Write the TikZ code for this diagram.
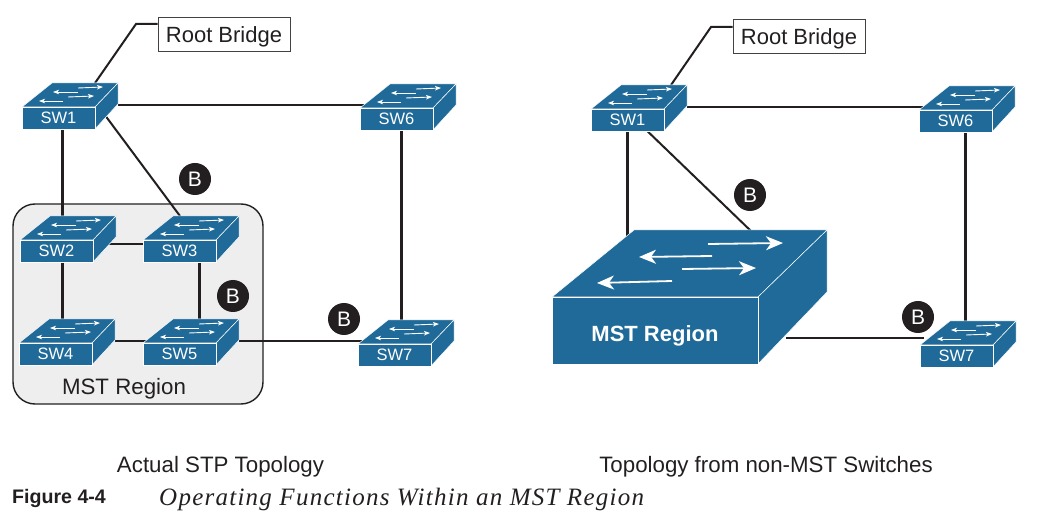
\documentclass[tikz,border=0pt]{standalone}
\usepackage{fontspec}
\setmainfont{Liberation Sans}
\newfontfamily\capfont[LetterSpace=5]{Liberation Serif}
\usetikzlibrary{arrows.meta,backgrounds}
\definecolor{swblue}{HTML}{1F6A98}
\definecolor{inkblack}{HTML}{231F20}
\definecolor{regiongray}{HTML}{EEEEEE}
\tikzset{
  swface/.style={fill=swblue,draw=white,line width=.5pt,line join=round},
  swfront/.style={swface,minimum width=73pt,minimum height=22pt,inner sep=0pt,text=white,font=\fontsize{16.5}{15}\selectfont},
  swarrow/.style={white,line width=.9pt,-{Stealth[length=6pt,width=4.5pt,inset=1.5pt]}},
  bigarrow/.style={white,line width=1.8pt,-{Stealth[length=17pt,width=14pt,inset=5pt]}},
  link/.style={inkblack,line width=2pt},
  vlink/.style={inkblack,line width=2.3pt},
  badge/.style={circle,fill=inkblack,text=white,minimum size=32pt,inner sep=0pt,font=\fontsize{21}{21}\selectfont},
  tag/.style={draw=inkblack!85,line width=1pt,fill=white,minimum width=132pt,minimum height=34pt,inner sep=0pt,text=inkblack,text depth=0pt,font=\fontsize{22}{22}\selectfont},
  capt/.style={text=inkblack,font=\fontsize{22.3}{22}\selectfont,inner sep=0pt},
}
% name, left, top, label
\newcommand{\swnode}[4]{
\begin{scope}[shift={(#2,#3)}]
\path[swface] (0,0) -- (30,-24) -- (96,-24) -- (73,0) -- cycle;
\path[swface] (73,0) -- (96,-24) -- (96,-3) -- (73,22) -- cycle;
\draw[swarrow] (56,-19) -- (81,-20);
\draw[swarrow] (56,-15) -- (31,-15);
\draw[swarrow] (46,-10) -- (72,-11);
\draw[swarrow] (41,-6) -- (17,-6);
\node[swfront] (#1) at (36.5,11) {#4};
\coordinate (#1r) at (96,-2);
\coordinate (#1l) at (4,-2);
\coordinate (#1t) at (73,-24);
\end{scope}
}
\begin{document}
\begin{tikzpicture}[x=1pt,y=-1pt]
\useasboundingbox (0,0) rectangle (1041,526);
\begin{scope}
\swnode{sw1}{22}{107}{SW1}
\swnode{sw6}{360}{108}{SW6}
\swnode{sw2}{20}{240}{SW2}
\swnode{sw3}{143}{240}{SW3}
\swnode{sw4}{19}{343}{SW4}
\swnode{sw5}{143}{343}{SW5}
\swnode{sw7}{358}{344}{SW7}
\swnode{rsw1}{591}{109}{SW1}
\swnode{rsw6}{919}{110}{SW6}
\swnode{rsw7}{920}{345}{SW7}
\end{scope}
\begin{scope}
\path[swface] (552,297) -- (634,230) -- (827,230) -- (758,297) -- cycle;
\path[swface] (758,297) -- (827,230) -- (827,292) -- (758,364) -- cycle;
\draw[bigarrow] (708,244) -- (783,243);
\draw[bigarrow] (712,256) -- (639,257);
\draw[bigarrow] (682,269) -- (756,268);
\draw[bigarrow] (672,281) -- (597,283);
\node[swfront,minimum width=206pt,minimum height=67pt,font=\fontsize{22}{22}\selectfont\bfseries] (bigsw) at (655,330.5) {\raisebox{-6.5pt}[10pt][0pt]{MST Region}};
\coordinate (bigswt) at (752,232);
\coordinate (bigswr) at (786,338);
\end{scope}
\begin{scope}
\node[tag] (root1) at (224,35) {Root Bridge};
\node[tag] (root2) at (799,36.5) {Root Bridge};
\coordinate (bend1) at (136,24);
\coordinate (bend2) at (711,27);
\node[capt] (regionlbl) at (124,389) {MST Region};
\node[badge] (b1) at (195,179) {B};
\node[badge] (b2) at (233,296) {B};
\node[badge] (b3) at (344,319) {B};
\node[badge] (b4) at (750,195) {B};
\node[badge] (b5) at (918,317) {B};
\end{scope}
\begin{scope}[on background layer]
\node[draw=inkblack,line width=1.4pt,fill=regiongray,rounded corners=22pt,minimum width=250pt,minimum height=200pt] (region) at (138,304) {};
\draw[link] (bend1 -| root1.west) -- (bend1) -- (sw1t);
\draw[link] (bend2 -| root2.west) -- (bend2) -- ([xshift=7pt]rsw1t);
\draw[link] (sw1r) -- (sw1r -| sw6l);
\draw[vlink] ([xshift=4pt]sw1.south) -- ([xshift=4pt]sw1.south |- sw2.north);
\draw[link] ([xshift=2pt,yshift=2pt]sw1.north east) -- ([xshift=-36pt]sw3t);
\draw[link] ([yshift=-4pt]sw2.north east) -- ([yshift=-4pt]sw2.north east -| sw3l);
\draw[vlink] ([xshift=6pt]sw2.south) -- ([xshift=6pt]sw2.south |- sw4.north);
\draw[vlink] ([xshift=20pt]sw3.south) -- ([xshift=20pt]sw3.south |- sw5.north);
\draw[link] (sw4r) -- (sw4r -| sw5l);
\draw[link] (sw5r) -- (sw5r -| sw7l);
\draw[vlink] ([xshift=5pt]sw6.south) -- ([xshift=5pt]sw6.south |- sw7.north);
\draw[link] (rsw1r) -- (rsw1r -| rsw6l);
\draw[vlink] (rsw1.south) -- (rsw1.south |- bigsw.north);
\draw[link] ([xshift=20pt]rsw1.south) -- (bigswt);
\draw[link] (bigswr) -- (bigswr -| rsw7l);
\draw[vlink] ([xshift=10pt]rsw6.south) -- ([xshift=10pt]rsw6.south |- rsw7.north);
\end{scope}
\begin{scope}
\node[capt] (capleft) at (220.5,467) {Actual STP Topology};
\node[capt] (capright) at (766,467) {Topology from non-MST Switches};
\node[capt,anchor=west,font=\fontsize{19.6}{20}\selectfont\bfseries] (fignum) at (12,498) {Figure 4-4};
\node[capt,anchor=west,font=\capfont\itshape\fontsize{25}{26}\selectfont] (figtitle) at (159,499) {Operating Functions Within an MST Region};
\end{scope}
\end{tikzpicture}
\end{document}
